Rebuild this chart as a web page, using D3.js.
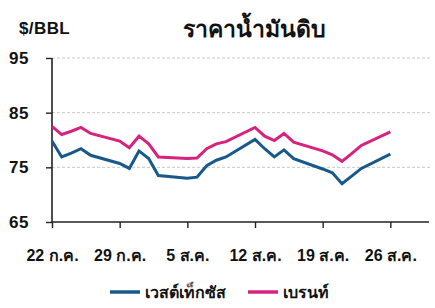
<!DOCTYPE html>
<html>
<head>
<meta charset="utf-8">
<script src="https://cdn.jsdelivr.net/npm/d3@7"></script>
<style>
  body { margin: 0; background: #fff; }
  text { font-family: "Liberation Sans", "Noto Sans", sans-serif; font-weight: bold; fill: #111; }
</style>
</head>
<body>
<div id="chart"></div>
<script>
const dates = [
  "2024-07-22","2024-07-23","2024-07-24","2024-07-25","2024-07-26",
  "2024-07-29","2024-07-30","2024-07-31","2024-08-01","2024-08-02",
  "2024-08-05","2024-08-06","2024-08-07","2024-08-08","2024-08-09",
  "2024-08-12","2024-08-13","2024-08-14","2024-08-15","2024-08-16",
  "2024-08-19","2024-08-20","2024-08-21","2024-08-22","2024-08-23",
  "2024-08-26"
];
const wti = [
  79.8, 76.9, 77.6, 78.4, 77.2,
  75.7, 74.8, 78.0, 76.6, 73.5,
  73.0, 73.2, 75.3, 76.3, 76.9,
  80.1, 78.4, 76.9, 78.2, 76.6,
  74.7, 74.0, 72.0, 73.4, 74.8,
  77.4
];
const brent = [
  82.5, 81.0, 81.6, 82.3, 81.2,
  79.8, 78.6, 80.7, 79.3, 76.9,
  76.6, 76.7, 78.4, 79.3, 79.7,
  82.3, 80.7, 79.9, 81.2, 79.6,
  78.0, 77.3, 76.1, 77.5, 79.0,
  81.5
];
const yTicks = [65, 75, 85, 95];
const xTicks = ["2024-07-22","2024-07-29","2024-08-05","2024-08-12","2024-08-19","2024-08-26"];
const xTickLabels = ["22 ก.ค.","29 ก.ค.","5 ส.ค.","12 ส.ค.","19 ส.ค.","26 ส.ค."];
const seriesNames = ["เวสต์เท็กซัส", "เบรนท์"];
const colors = ["#17598a", "#d6237e"];

const w = 435;
const h = 308;
const parse = d3.timeParse("%Y-%m-%d");

const xScale = d3.scaleTime()
  .domain([parse("2024-07-22"), parse("2024-08-30")])
  .range([52, 429]);

const yScale = d3.scaleLinear()
  .domain([65, 95])
  .range([222, 58]);

const svg = d3.select("#chart").append("svg").attr("width", w).attr("height", h);

// Titulo
svg.append("text").attr("x", 254).attr("y", 37).attr("text-anchor", "middle")
  .style("font-size", "23px").text("ราคาน้ำมันดิบ");
svg.append("text").attr("x", 19).attr("y", 34)
  .style("font-size", "17px").style("letter-spacing", "0.4px").text("$/BBL");

// Grid
svg.append("g").selectAll("line")
  .data(yTicks.slice(1))
  .enter().append("line")
  .attr("x1", 52).attr("x2", 430)
  .attr("y1", (d) => yScale(d)).attr("y2", (d) => yScale(d))
  .attr("stroke", "#c8c8c8").attr("stroke-dasharray", "3,2").attr("stroke-width", 1);

// Ejes
const yAxis = d3.axisLeft(yScale).tickValues(yTicks).tickSize(6).tickPadding(20);
const gy = svg.append("g").attr("transform", "translate(52,0)").call(yAxis);
gy.select(".domain").attr("d", `M0,${yScale(95)}V${yScale(65)}`).attr("stroke", "#222").attr("stroke-width", 1.6);
gy.selectAll(".tick line").attr("stroke", "#222").attr("stroke-width", 1.4);
gy.selectAll(".tick text").style("font-size", "17px").style("letter-spacing", "0.5px")
  .attr("text-anchor", "start").attr("x", -43).attr("fill", "#111");

const xAxis = d3.axisBottom(xScale)
  .tickValues(xTicks.map(parse))
  .tickFormat((d, i) => xTickLabels[i])
  .tickSize(6).tickPadding(22);
const gx = svg.append("g").attr("transform", `translate(0,${yScale(65)})`).call(xAxis);
gx.select(".domain").attr("d", "M52,0H429").attr("stroke", "#222").attr("stroke-width", 1.6);
gx.selectAll(".tick line").attr("stroke", "#222").attr("stroke-width", 1.4);
gx.selectAll(".tick text").style("font-size", "16px").attr("fill", "#111");

// Lineas
const line = d3.line()
  .x((d) => xScale(parse(d[0])))
  .y((d) => yScale(d[1]));

[brent, wti].forEach((vals, k) => {
  const idx = k === 0 ? 1 : 0;
  svg.append("path")
    .datum(dates.map((d, i) => [d, vals[i]]))
    .attr("fill", "none")
    .attr("stroke", colors[idx])
    .attr("stroke-width", 3)
    .attr("stroke-linejoin", "miter")
    .attr("d", line);
});

// Leyenda
const legendX = [110, 248];
seriesNames.forEach((name, i) => {
  svg.append("line").attr("x1", legendX[i]).attr("x2", legendX[i] + 30)
    .attr("y1", 292).attr("y2", 292)
    .attr("stroke", colors[i]).attr("stroke-width", 3.5);
  svg.append("text").attr("x", legendX[i] + 35).attr("y", 298)
    .style("font-size", "16px").text(name);
});
</script>
</body>
</html>
